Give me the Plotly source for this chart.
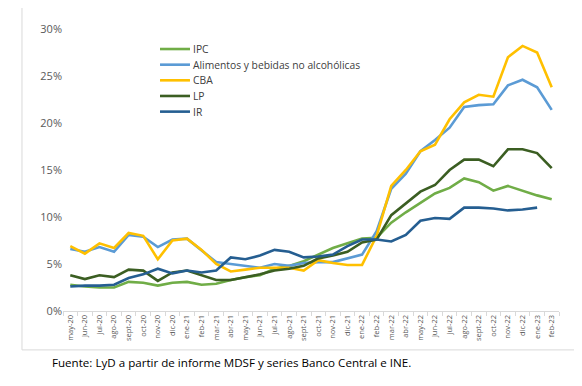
import plotly.graph_objects as go

months = ["may-20","jun-20","jul-20","ago-20","sept-20","oct-20","nov-20","dic-20",
          "ene-21","feb-21","mar-21","abr-21","may-21","jun-21","jul-21","ago-21",
          "sept-21","oct-21","nov-21","dic-21","ene-22","feb-22","mar-22","abr-22",
          "may-22","jun-22","jul-22","ago-22","sept-22","oct-22","nov-22","dic-22",
          "ene-23","feb-23"]

ipc = [2.8,2.6,2.5,2.5,3.1,3.0,2.7,3.0,3.1,2.8,2.9,3.3,3.6,3.8,4.5,4.8,5.3,6.0,6.7,7.2,
       7.7,7.8,9.4,10.5,11.5,12.5,13.1,14.1,13.7,12.8,13.3,12.8,12.3,11.9]
alimentos = [6.6,6.3,6.8,6.3,8.1,7.9,6.8,7.6,7.7,6.5,5.2,5.0,4.8,4.6,5.0,4.8,5.1,5.2,5.2,5.6,
             6.0,8.5,13.0,14.6,17.0,18.2,19.5,21.7,21.9,22.0,24.0,24.6,23.8,21.4]
cba = [6.9,6.1,7.2,6.7,8.3,8.0,5.5,7.5,7.7,6.5,5.0,4.2,4.4,4.6,4.6,4.6,4.3,5.4,5.1,4.9,
       4.9,8.0,13.3,15.0,17.0,17.7,20.4,22.2,23.0,22.8,27.0,28.2,27.5,23.8]
lp = [3.8,3.4,3.8,3.6,4.4,4.3,3.2,4.1,4.3,3.8,3.3,3.3,3.6,3.9,4.3,4.5,4.8,5.6,5.9,6.3,
      7.3,7.6,10.2,11.5,12.7,13.4,15.0,16.1,16.1,15.4,17.2,17.2,16.8,15.2]
ir = [2.6,2.7,2.7,2.8,3.5,3.9,4.5,4.0,4.3,4.1,4.3,5.7,5.5,5.9,6.5,6.3,5.7,5.8,6.0,6.9,
      7.6,7.6,7.4,8.1,9.6,9.9,9.8,11.0,11.0,10.9,10.7,10.8,11.0,None]

names = ["IPC", "Alimentos y bebidas no alcohólicas", "CBA", "LP", "IR"]
values = [ipc, alimentos, cba, lp, ir]
colors = ["#70AD47", "#5B9BD5", "#FFC000", "#3B5E22", "#255E91"]

fig = go.Figure()
for name, vals, color in zip(names, values, colors):
    fig.add_trace(go.Scatter(
        x=months,
        y=[v / 100 if v is not None else None for v in vals],
        mode="lines", name=name,
        line=dict(color=color, width=2.6),
        showlegend=False,
    ))

# Manual legend (compact spacing like the Excel original)
shapes = [dict(type="rect", xref="paper", yref="paper",
               x0=-0.0827, x1=1.036, y0=-0.138, y1=1.085,
               line=dict(color="#D9D9D9", width=1), fillcolor="rgba(0,0,0,0)")]
annotations = []
for i, (name, color) in enumerate(zip(names, colors)):
    yy = 0.929 - i * 0.0555
    shapes.append(dict(type="line", xref="paper", yref="paper",
                       x0=0.1956, x1=0.256, y0=yy, y1=yy,
                       line=dict(color=color, width=2.6)))
    annotations.append(dict(text=name, xref="paper", yref="paper", x=0.258, y=yy,
                            xanchor="left", yanchor="middle", showarrow=False,
                            font=dict(size=10.3, color="#404040")))

annotations.append(dict(text="Fuente: LyD a partir de informe MDSF y series Banco Central e INE.",
                        xref="paper", yref="paper", x=-0.026, y=-0.184,
                        xanchor="left", yanchor="middle", showarrow=False,
                        font=dict(size=11.6, color="#000000")))

fig.update_layout(
    width=574, height=378,
    margin=dict(l=55, r=23, t=21, b=75),
    paper_bgcolor="white", plot_bgcolor="white",
    font=dict(family="Open Sans, Noto Sans, sans-serif", color="#595959", size=9),
    showlegend=False,
    xaxis=dict(type="category", categoryorder="array", categoryarray=months,
               range=[-0.5, 33.5], tickangle=-90, tickfont=dict(size=7.5),
               tickmode="array", tickvals=months, ticktext=months,
               showgrid=False, showline=True, linecolor="#D9D9D9", linewidth=1,
               ticks="outside", ticklen=4, tickcolor="#D9D9D9", tickson="boundaries",
               zeroline=False),
    yaxis=dict(range=[0, 0.30], dtick=0.05, tickformat=".0%", showgrid=False,
               zeroline=False, showline=False, tickfont=dict(size=11), ticks=""),
    shapes=shapes,
    annotations=annotations,
)

fig.write_html("out.html")
